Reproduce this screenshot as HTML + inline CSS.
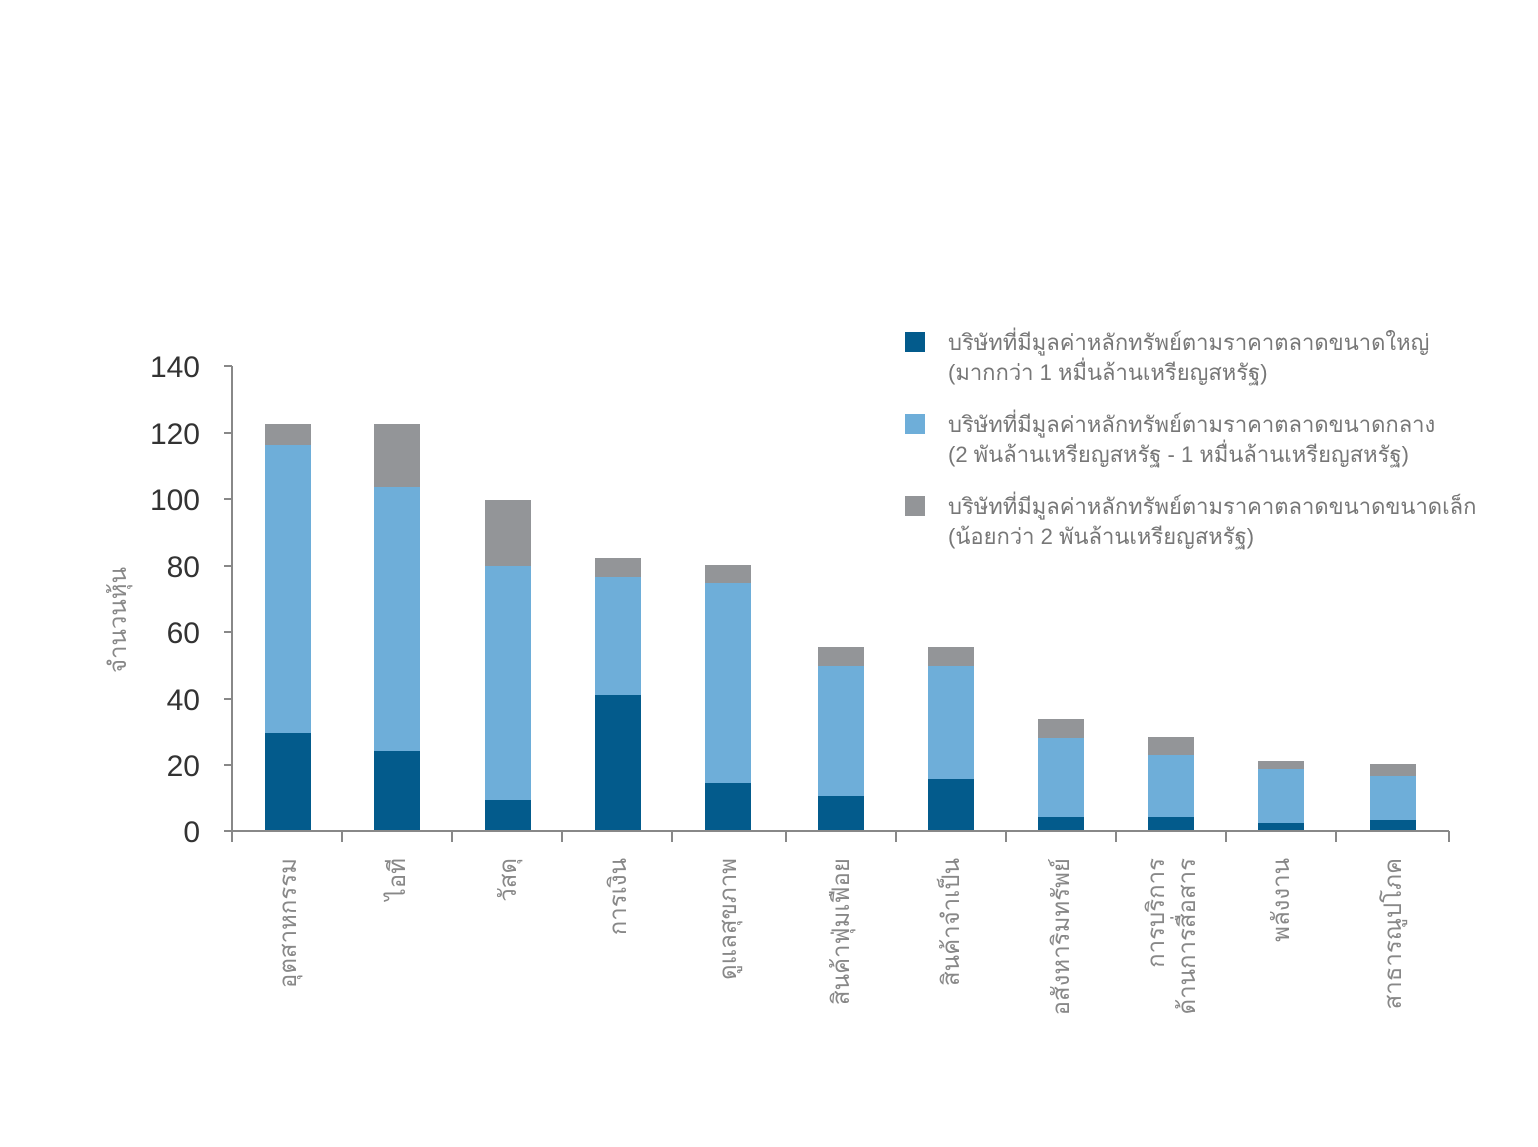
<!DOCTYPE html>
<html><head><meta charset="utf-8"><style>
body{margin:0;background:#fff}
svg{display:block}
text{font-family:"Liberation Sans","DejaVu Sans",sans-serif}
</style></head><body>
<svg width="1538" height="1147" viewBox="0 0 1538 1147">
<g fill="#035b8c">
<rect x="265" y="733" width="46" height="98"/><rect x="374" y="751" width="46" height="80"/><rect x="485" y="800" width="46" height="31"/><rect x="595" y="695" width="46" height="136"/><rect x="705" y="783" width="46" height="48"/><rect x="818" y="796" width="46" height="35"/><rect x="928" y="779" width="46" height="52"/><rect x="1038" y="817" width="46" height="14"/><rect x="1148" y="817" width="46" height="14"/><rect x="1258" y="823" width="46" height="8"/><rect x="1370" y="820" width="46" height="11"/>
</g>
<g fill="#6eaed9">
<rect x="265" y="445" width="46" height="288"/><rect x="374" y="487" width="46" height="264"/><rect x="485" y="566" width="46" height="234"/><rect x="595" y="577" width="46" height="118"/><rect x="705" y="583" width="46" height="200"/><rect x="818" y="666" width="46" height="130"/><rect x="928" y="666" width="46" height="113"/><rect x="1038" y="738" width="46" height="79"/><rect x="1148" y="755" width="46" height="62"/><rect x="1258" y="769" width="46" height="54"/><rect x="1370" y="776" width="46" height="44"/>
</g>
<g fill="#939598">
<rect x="265" y="424" width="46" height="21"/><rect x="374" y="424" width="46" height="63"/><rect x="485" y="500" width="46" height="66"/><rect x="595" y="558" width="46" height="19"/><rect x="705" y="565" width="46" height="18"/><rect x="818" y="647" width="46" height="19"/><rect x="928" y="647" width="46" height="19"/><rect x="1038" y="719" width="46" height="19"/><rect x="1148" y="737" width="46" height="18"/><rect x="1258" y="761" width="46" height="8"/><rect x="1370" y="764" width="46" height="12"/>
</g>
<g stroke="#888" stroke-width="2" fill="none">
<line x1="232" y1="366" x2="232" y2="842"/>
<line x1="232" y1="831" x2="1449" y2="831"/>
<path d="M224 366h8M224 433h8M224 499h8M224 566h8M224 632h8M224 699h8M224 765h8M224 831h8"/>
<path d="M342 831v11M452 831v11M562 831v11M672 831v11M786 831v11M896 831v11M1006 831v11M1116 831v11M1226 831v11M1336 831v11M1449 831v11"/>
</g>
<g font-size="30" fill="#333" text-anchor="end">
<text x="200" y="377">140</text><text x="200" y="444">120</text><text x="200" y="510">100</text><text x="200" y="577">80</text><text x="200" y="643">60</text><text x="200" y="710">40</text><text x="200" y="776">20</text><text x="200" y="842">0</text>
</g>
<text transform="translate(126,620) rotate(-90)" text-anchor="middle" font-size="24" fill="#888">จำนวนหุ้น</text>
<g font-size="24" fill="#888" text-anchor="end">
<text transform="translate(296,858) rotate(-90)">อุตสาหกรรม</text>
<text transform="translate(405,858) rotate(-90)">ไอที</text>
<text transform="translate(516,858) rotate(-90)">วัสดุ</text>
<text transform="translate(626,858) rotate(-90)">การเงิน</text>
<text transform="translate(736,858) rotate(-90)">ดูแลสุขภาพ</text>
<text transform="translate(849,858) rotate(-90)">สินค้าฟุ่มเฟือย</text>
<text transform="translate(959,858) rotate(-90)">สินค้าจำเป็น</text>
<text transform="translate(1069,858) rotate(-90)">อสังหาริมทรัพย์</text>
<text transform="translate(1164,858) rotate(-90)">การบริการ</text>
<text transform="translate(1195,858) rotate(-90)">ด้านการสื่อสาร</text>
<text transform="translate(1289,858) rotate(-90)">พลังงาน</text>
<text transform="translate(1401,858) rotate(-90)">สาธารณูปโภค</text>
</g>
<rect x="905" y="332" width="20" height="20" fill="#035b8c"/>
<rect x="905" y="414" width="20" height="20" fill="#6eaed9"/>
<rect x="905" y="496" width="20" height="20" fill="#939598"/>
<g font-size="22" fill="#777">
<text x="948" y="350">บริษัทที่มีมูลค่าหลักทรัพย์ตามราคาตลาดขนาดใหญ่</text>
<text x="948" y="380">(มากกว่า 1 หมื่นล้านเหรียญสหรัฐ)</text>
<text x="948" y="432">บริษัทที่มีมูลค่าหลักทรัพย์ตามราคาตลาดขนาดกลาง</text>
<text x="948" y="462">(2 พันล้านเหรียญสหรัฐ - 1 หมื่นล้านเหรียญสหรัฐ)</text>
<text x="948" y="514">บริษัทที่มีมูลค่าหลักทรัพย์ตามราคาตลาดขนาดขนาดเล็ก</text>
<text x="948" y="544">(น้อยกว่า 2 พันล้านเหรียญสหรัฐ)</text>
</g>
</svg>
</body></html>
